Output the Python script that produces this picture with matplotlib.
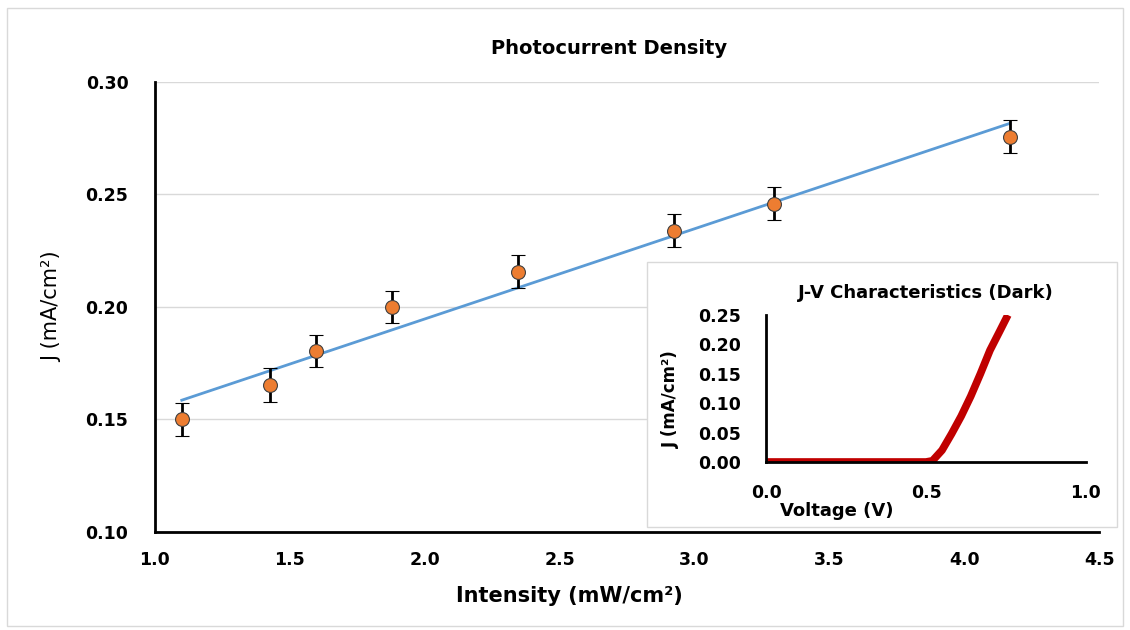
import numpy as np
import matplotlib
matplotlib.use('Agg')
import matplotlib.pyplot as plt
from matplotlib.patches import Rectangle
from matplotlib.ticker import FormatStrFormatter

plt.rcParams['font.family'] = ['DejaVu Sans']

# photocurrent data
intensity = [1.10, 1.426, 1.596, 1.878, 2.344, 2.922, 3.293, 4.167]
current_density = [0.150, 0.1653, 0.1804, 0.200, 0.2156, 0.2338, 0.2458, 0.2756]
current_err = [0.0073, 0.0075, 0.0072, 0.0072, 0.0073, 0.0073, 0.0073, 0.0073]

# dark J-V curve
voltage = [0.0, 0.1, 0.2, 0.3, 0.4, 0.5, 0.52, 0.55, 0.58, 0.61, 0.64, 0.67, 0.70, 0.73, 0.756]
dark_j = [0.0, 0.0, 0.0, 0.0, 0.0, 0.0, 0.002, 0.02, 0.048, 0.078, 0.112, 0.15, 0.19, 0.222, 0.25]

fig = plt.figure(figsize=(11.3, 6.3), dpi=100)
fig.patches.append(Rectangle((0.006, 0.006), 0.988, 0.982, transform=fig.transFigure,
                             fill=False, edgecolor='#d9d9d9', linewidth=1))

ax = fig.add_axes([0.137, 0.1556, 0.836, 0.7144])

# linear trendline
coef = np.polyfit(intensity, current_density, 1)
fit_x = np.array([intensity[0], intensity[-1]])
ax.plot(fit_x, np.polyval(coef, fit_x), color='#5B9BD5', linewidth=2, zorder=2)

ax.errorbar(intensity, current_density, yerr=current_err, fmt='o', color='#ED7D31',
            markeredgecolor='#404040', markeredgewidth=0.8, markersize=10,
            ecolor='black', elinewidth=2, capsize=5, capthick=2, zorder=3)

ax.set_xlim(1.0, 4.5)
ax.set_ylim(0.10, 0.30)
ax.set_xticks(np.arange(1.0, 4.51, 0.5))
ax.set_yticks([0.10, 0.15, 0.20, 0.25, 0.30])
ax.xaxis.set_major_formatter(FormatStrFormatter('%.1f'))
ax.yaxis.set_major_formatter(FormatStrFormatter('%.2f'))
ax.yaxis.grid(True, color='#d9d9d9', linewidth=1)
ax.set_axisbelow(True)
for s in ['top', 'right']:
    ax.spines[s].set_visible(False)
for s in ['left', 'bottom']:
    ax.spines[s].set_linewidth(2)
ax.tick_params(length=0, labelsize=12.5)
ax.tick_params(axis='x', pad=14)
ax.tick_params(axis='y', pad=19)
for lab in ax.get_xticklabels() + ax.get_yticklabels():
    lab.set_fontweight('bold')
ax.set_title('Photocurrent Density', fontsize=14, fontweight='bold', pad=20, x=0.481)
ax.set_xlabel('Intensity (mW/cm²)', fontsize=15, fontweight='bold')
ax.xaxis.set_label_coords(0.439, -0.12)
ax.set_ylabel('J (mA/cm²)', fontsize=15)
ax.yaxis.set_label_coords(-0.098, 0.5)

# inset box
fig.patches.append(Rectangle((0.5726, 0.1635), 0.4159, 0.4205, transform=fig.transFigure,
                             facecolor='white', edgecolor='#d9d9d9', linewidth=1, zorder=5))

ins = fig.add_axes([0.678, 0.2667, 0.283, 0.2333], zorder=6)
ins.plot(voltage, dark_j, color='#C00000', linewidth=5.5, solid_capstyle='butt',
         solid_joinstyle='round')
ins.set_xlim(0, 1.0)
ins.set_ylim(0, 0.25)
ins.set_xticks([0.0, 0.5, 1.0])
ins.set_yticks([0.0, 0.05, 0.10, 0.15, 0.20, 0.25])
ins.xaxis.set_major_formatter(FormatStrFormatter('%.1f'))
ins.yaxis.set_major_formatter(FormatStrFormatter('%.2f'))
for s in ['top', 'right']:
    ins.spines[s].set_visible(False)
for s in ['left', 'bottom']:
    ins.spines[s].set_linewidth(2)
ins.tick_params(length=0, labelsize=12.5)
ins.tick_params(axis='x', pad=16)
ins.tick_params(axis='y', pad=18)
for lab in ins.get_xticklabels() + ins.get_yticklabels():
    lab.set_fontweight('bold')
ins.set_title('J-V Characteristics (Dark)', fontsize=13, fontweight='bold', pad=12)
ins.set_xlabel('Voltage (V)', fontsize=13, fontweight='bold')
ins.xaxis.set_label_coords(0.22, -0.27)
ins.set_ylabel('J (mA/cm²)', fontsize=12, fontweight='bold')
ins.yaxis.set_label_coords(-0.27, 0.43)

fig.savefig('out.png', dpi=100)
